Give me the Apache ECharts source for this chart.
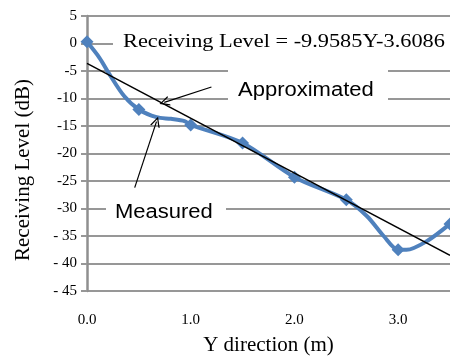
<!DOCTYPE html>
<html>
<head>
<meta charset="utf-8">
<script src="https://cdn.jsdelivr.net/npm/echarts@6/dist/echarts.min.js"></script>
<style>
  html, body { margin: 0; padding: 0; background: #fff; }
  #main { width: 450px; height: 361px; }
</style>
</head>
<body>
<div id="main"></div>
<script>
// measured curve (markers at every 0.5 m)
var measuredX = [0, 0.12, 0.22, 0.36, 0.5, 0.67, 0.81, 0.94, 1.0, 1.5, 2.0, 2.5, 2.7, 2.86, 3.0, 3.08, 3.28, 3.5];
var measuredY = [0.3, -2.6, -5.7, -9.6, -12.0, -13.4, -13.7, -14.1, -14.8, -18.1, -24.3, -28.4, -31.4, -35.0, -37.5, -37.5, -35.9, -32.8];
// approximated (trend) line end points
var trendX = [0, 3.5];
var trendY = [-3.6, -38.5];
// annotation arrows [from, to] in data units
var approxArrow = [[1.20, -7.9], [0.745, -10.7]];
var measuredArrow = [[0.46, -26.2], [0.67, -14.2]];
var yTickLabels = {5: "5", 0: "0", "-5": "-5", "-10": "-10", "-15": "-15", "-20": "-20",
  "-25": "-25", "-30": "-30", "-35": "- 35", "-40": "- 40", "-45": "- 45"};

var dom = document.getElementById("main");
var chart = echarts.init(dom);

var measuredData = measuredX.map(function (x, i) {
  var onStep = Math.abs(x * 2 - Math.round(x * 2)) < 1e-6;
  return { value: [x, measuredY[i]], symbol: onStep ? "diamond" : "none" };
});
var trendData = trendX.map(function (x, i) { return [x, trendY[i]]; });

var gridColor = "#979797";
var serif = "Liberation Serif";
var sans = "Liberation Sans";
var chevron = "path://M5,0 L10,10 L8.6,10 L5,2.6 L1.4,10 L0,10 Z";

chart.setOption({
  animation: false,
  grid: { left: 87, right: -4, top: 16, bottom: 69 },
  xAxis: {
    type: "value",
    min: 0,
    max: 3.5,
    interval: 0.5,
    name: "Y direction (m)",
    nameLocation: "middle",
    nameGap: 44,
    nameTextStyle: { fontFamily: serif, fontSize: 21, color: "#000" },
    axisLine: { show: false },
    axisTick: { show: false },
    splitLine: { show: false },
    axisLabel: {
      margin: 22,
      fontFamily: serif,
      fontSize: 15,
      color: "#000",
      showMaxLabel: false,
      formatter: function (v) {
        return Math.abs(v - Math.round(v)) < 1e-6 ? v.toFixed(1) : "";
      }
    }
  },
  yAxis: {
    type: "value",
    min: -45,
    max: 5,
    interval: 5,
    axisLine: { show: true, lineStyle: { color: "#8f8f8f", width: 2.5 } },
    axisTick: { show: true, inside: false, length: 6, lineStyle: { color: gridColor, width: 2 } },
    splitLine: { show: true, lineStyle: { color: gridColor, width: 2 } },
    axisLabel: {
      margin: 10,
      fontFamily: serif,
      fontSize: 15,
      color: "#000",
      formatter: function (v) { return yTickLabels[v]; }
    }
  },
  graphic: [
    { type: "rect", z: 1, shape: { x: 113, y: 32, width: 345, height: 24 }, style: { fill: "#fff" } },
    { type: "rect", z: 1, shape: { x: 228, y: 64, width: 160, height: 42 }, style: { fill: "#fff" } },
    { type: "rect", z: 1, shape: { x: 106, y: 193, width: 120, height: 34 }, style: { fill: "#fff" } },
    {
      type: "text", z: 3, x: 123, y: 42, scaleX: 1.24,
      style: { text: "Receiving Level = -9.9585Y-3.6086", font: "18px " + serif, fill: "#000",
        textAlign: "left", textVerticalAlign: "middle" }
    },
    {
      type: "text", z: 3, x: 238, y: 90, scaleX: 1.1,
      style: { text: "Approximated", font: "20px " + sans, fill: "#000",
        textAlign: "left", textVerticalAlign: "middle" }
    },
    {
      type: "text", z: 3, x: 115, y: 212, scaleX: 1.1,
      style: { text: "Measured", font: "20px " + sans, fill: "#000",
        textAlign: "left", textVerticalAlign: "middle" }
    },
    {
      type: "text", z: 3, x: 23, y: 170, rotation: Math.PI / 2,
      style: { text: "Receiving Level (dB)", font: "21px " + serif, fill: "#000",
        textAlign: "center", textVerticalAlign: "middle" }
    }
  ],
  series: [
    {
      name: "Measured",
      type: "line",
      data: measuredData,
      smooth: 0.3,
      showAllSymbol: true,
      symbolSize: 13,
      lineStyle: { color: "#4f81bd", width: 4 },
      itemStyle: { color: "#4f81bd" },
      z: 2
    },
    {
      name: "Approximated",
      type: "line",
      data: trendData,
      showSymbol: false,
      lineStyle: { color: "#000", width: 1.5 },
      z: 3,
      markLine: {
        silent: true,
        symbol: ["none", chevron],
        symbolSize: [10, 10],
        label: { show: false },
        lineStyle: { color: "#000", width: 1.2, type: "solid" },
        data: [
          [{ coord: approxArrow[0] }, { coord: approxArrow[1] }],
          [{ coord: measuredArrow[0] }, { coord: measuredArrow[1] }]
        ]
      }
    }
  ]
});
</script>
</body>
</html>
